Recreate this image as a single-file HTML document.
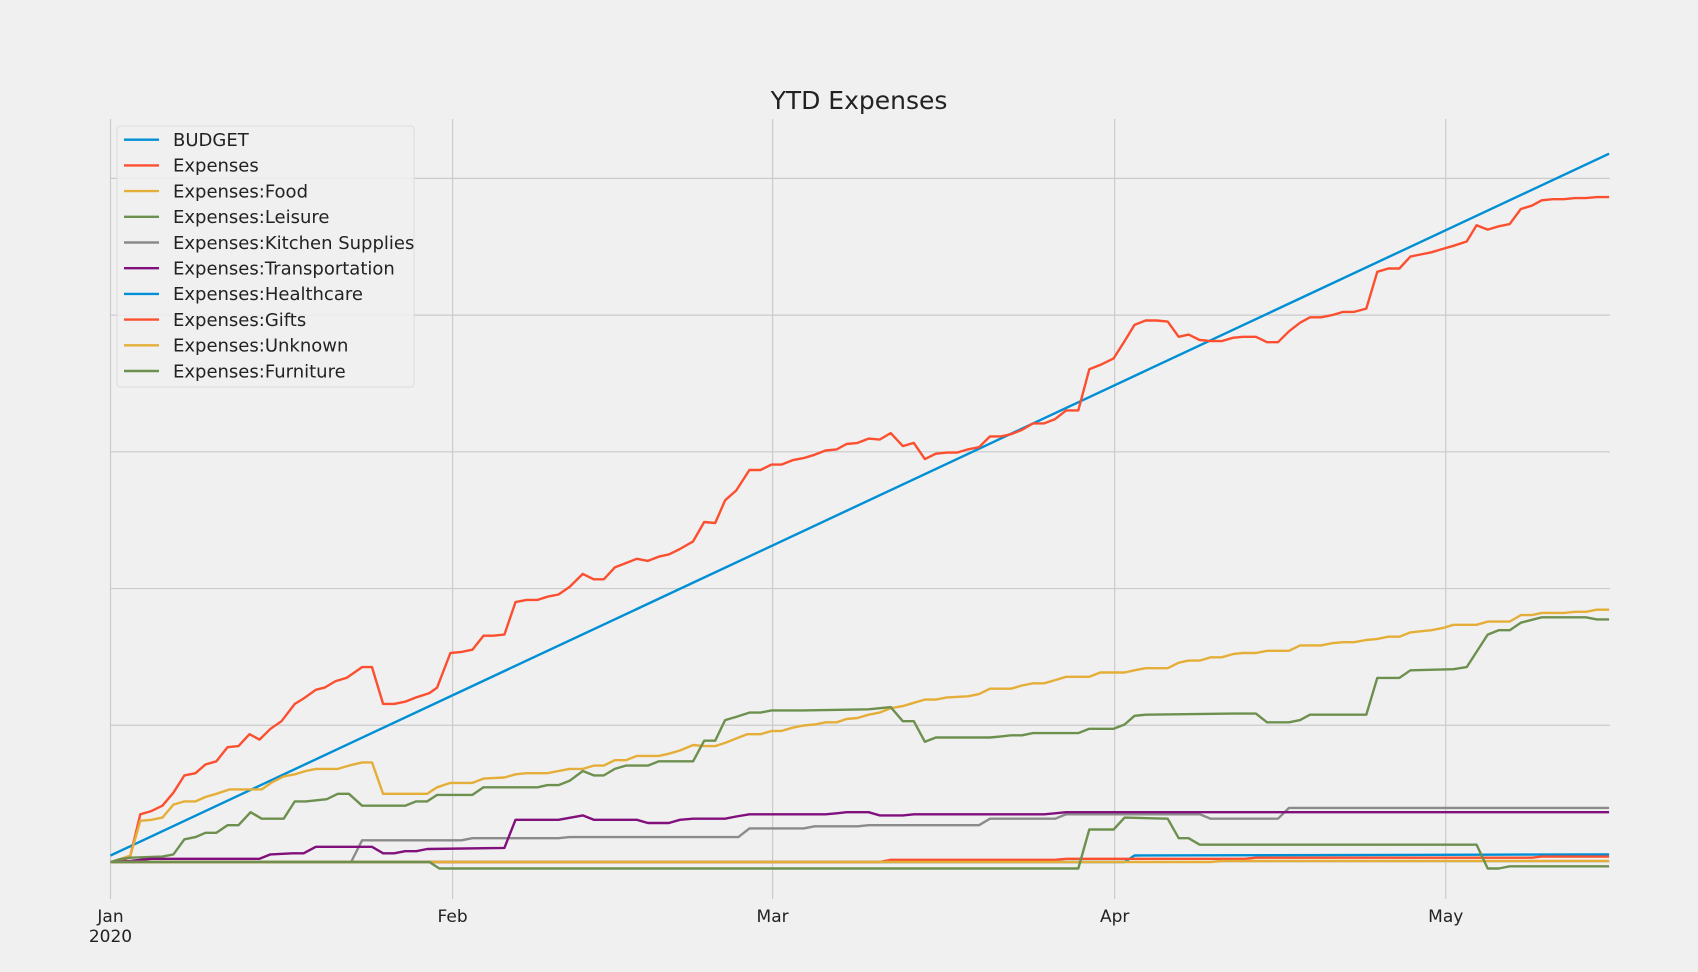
<!DOCTYPE html>
<html><head><meta charset="utf-8">
<style>
html,body{margin:0;padding:0;background:#f0f0f0;}
svg{display:block;}
text{font-family:"DejaVu Sans","Liberation Sans",sans-serif;fill:#222;}
</style></head>
<body>
<svg id="chart" width="1698" height="972" viewBox="0 0 1698 972" xmlns="http://www.w3.org/2000/svg">
<rect x="0" y="0" width="1698" height="972" fill="#f0f0f0"/>
<g id="grid"></g>
<g id="series"></g>
<text x="859" y="109" font-size="25" text-anchor="middle">YTD Expenses</text>
<g id="xticks"></g>
<g id="legend"></g>
</svg>
<script>
// ---- data ----
const seriesNames = ["BUDGET","Expenses","Expenses:Food","Expenses:Leisure","Expenses:Kitchen Supplies","Expenses:Transportation","Expenses:Healthcare","Expenses:Gifts","Expenses:Unknown","Expenses:Furniture"];
const seriesColors = ["#008fd5","#fc4f30","#e5ae38","#6d904f","#8b8b8b","#810f7c","#008fd5","#fc4f30","#e5ae38","#6d904f"];
const monthTickDays = [0,31,60,91,121];
const monthTickLabels = ["Jan","Feb","Mar","Apr","May"];
const yGridValues = [0,1010,2020,3030,4040,5050];

const budgetDays = [0,135.8];
const budgetVals = [48,5232];

const expDays = [0,1.0,1.8,2.7,3.7,4.7,5.7,6.7,7.7,8.6,9.6,10.6,11.6,12.6,13.5,14.5,15.5,16.7,17.5,18.6,19.4,20.4,21.4,22.8,23.7,24.7,25.7,26.7,27.7,28.9,29.6,30.8,31.8,32.8,33.8,34.7,35.7,36.7,37.7,38.7,39.6,40.6,41.6,42.8,43.8,44.7,45.7,46.7,47.7,48.7,49.7,50.6,51.6,52.8,53.8,54.8,55.7,56.7,57.9,58.9,59.9,60.8,61.8,62.8,63.8,64.8,65.8,66.7,67.7,68.7,69.7,70.7,71.8,72.8,73.8,74.8,75.8,76.7,77.7,78.7,79.7,80.7,81.6,82.6,83.6,84.6,85.6,86.6,87.7,88.7,89.7,90.9,91.9,92.8,93.8,94.8,95.8,96.8,97.7,98.7,99.7,100.7,101.7,102.6,103.8,104.8,105.8,106.8,107.8,108.7,109.7,110.7,111.7,112.7,113.8,114.8,115.8,116.8,117.8,118.7,119.7,120.7,121.7,122.9,123.8,124.8,125.8,126.8,127.8,128.8,129.7,130.7,131.7,132.7,133.7,134.7,135.8];
const expVals = [0,0,48,352,376,416,512,640,656,720,744,848,856,944,904,984,1040,1168,1208,1272,1288,1336,1360,1440,1440,1168,1168,1184,1216,1248,1288,1544,1552,1568,1672,1672,1680,1920,1936,1936,1960,1976,2032,2128,2088,2088,2176,2208,2240,2224,2256,2272,2312,2368,2512,2504,2672,2744,2896,2896,2936,2936,2968,2984,3008,3040,3048,3088,3096,3128,3120,3168,3072,3096,2976,3016,3024,3024,3048,3064,3144,3144,3160,3192,3240,3240,3272,3336,3336,3640,3672,3720,3848,3968,4000,4000,3992,3880,3896,3856,3848,3848,3872,3880,3880,3840,3840,3920,3984,4024,4024,4040,4064,4064,4088,4360,4384,4384,4472,4488,4504,4528,4552,4584,4704,4672,4696,4712,4824,4848,4888,4896,4896,4904,4904,4912,4912];

const foodDays = [0,1.0,1.8,2.7,3.7,4.7,5.7,6.7,7.7,8.6,9.6,10.8,13.7,14.7,15.7,16.7,17.7,18.6,20.6,21.6,22.8,23.7,24.7,28.7,29.6,30.8,32.8,33.8,35.7,36.7,37.7,39.6,40.6,41.6,42.8,43.8,44.7,45.7,46.7,47.7,49.7,50.6,51.6,52.8,53.8,54.8,55.7,56.7,57.7,58.9,59.9,60.8,61.8,62.8,63.8,64.8,65.8,66.7,67.7,68.7,69.7,70.7,71.8,72.8,73.8,74.8,75.8,77.7,78.7,79.7,81.6,82.6,83.6,84.6,85.6,86.6,88.7,89.7,91.9,92.8,93.8,95.8,96.8,97.7,98.7,99.7,100.7,101.7,102.6,103.8,104.8,106.8,107.8,109.7,110.7,111.7,112.7,113.8,114.8,115.8,116.8,117.8,118.7,119.7,120.7,121.7,123.8,124.8,126.8,127.8,128.8,129.7,131.7,132.7,133.7,134.7,135.8];
const foodVals = [0,24,48,304,312,328,424,448,448,480,504,536,536,592,632,648,672,688,688,712,736,736,504,504,552,584,584,616,624,648,656,656,672,688,688,712,712,752,752,784,784,800,824,864,856,856,880,912,944,944,968,968,992,1008,1016,1032,1032,1056,1064,1088,1104,1136,1152,1176,1200,1200,1216,1224,1240,1280,1280,1304,1320,1320,1344,1368,1368,1400,1400,1416,1432,1432,1472,1488,1488,1512,1512,1536,1544,1544,1560,1560,1600,1600,1616,1624,1624,1640,1648,1664,1664,1696,1704,1712,1728,1752,1752,1776,1776,1824,1824,1840,1840,1848,1848,1864,1864];

const leisureDays = [0,1.0,1.8,4.7,5.7,6.7,7.7,8.6,9.6,10.6,11.6,12.7,13.7,15.7,16.7,17.7,19.6,20.6,21.6,22.8,26.7,27.7,28.7,29.6,32.8,33.8,38.7,39.6,40.6,41.6,42.8,43.8,44.7,45.7,46.7,48.7,49.7,52.8,53.8,54.8,55.7,56.7,57.9,58.9,59.9,62.8,68.7,70.7,71.8,72.8,73.8,74.8,79.7,80.7,81.6,82.6,83.6,87.7,88.7,90.9,91.9,92.8,93.8,101.7,103.8,104.8,106.8,107.8,108.7,113.8,114.8,116.8,117.8,121.7,122.9,124.8,125.8,126.8,127.8,129.7,133.7,134.7,135.8];
const leisureVals = [0,24,32,40,56,168,184,216,216,272,272,368,320,320,448,448,464,504,504,416,416,448,448,496,496,552,552,568,568,600,672,640,640,688,712,712,744,744,896,896,1048,1072,1104,1104,1120,1120,1128,1144,1040,1040,888,920,920,928,936,936,952,952,984,984,1016,1080,1088,1096,1096,1032,1032,1048,1088,1088,1360,1360,1416,1424,1440,1680,1712,1712,1768,1808,1808,1792,1792];

const kitchenDays = [0,21.8,22.8,31.8,32.8,40.6,41.6,56.9,57.9,62.8,63.8,67.7,68.7,78.7,79.7,85.6,86.6,98.7,99.7,105.8,106.8,135.8];
const kitchenVals = [0,0,160,160,176,176,184,184,248,248,264,264,272,272,320,320,352,352,320,320,400,400];

const transDays = [0,1.8,2.7,3.7,13.5,14.5,16.5,17.5,18.6,23.7,24.7,25.7,26.7,27.7,28.7,35.7,36.7,40.6,42.8,43.8,47.7,48.7,50.6,51.6,52.8,55.7,56.7,57.9,64.8,65.8,66.7,68.7,69.7,71.8,72.8,84.6,85.6,86.6,135.8];
const transVals = [0,8,16,24,24,56,64,64,112,112,64,64,80,80,96,104,312,312,344,312,312,288,288,312,320,320,336,352,352,360,368,368,344,344,352,352,360,368,368];

const healthDays = [0,91.9,92.8,135.8];
const healthVals = [0,0,48,56];

const giftsDays = [0,69.7,70.7,85.6,86.6,102.8,103.8,128.8,129.7,135.8];
const giftsVals = [0,0,16,16,24,24,32,32,40,40];

const unknownDays = [0,99.7,100.7,135.8];
const unknownVals = [0,0,8,8];

const furnDays = [0,28.9,29.8,87.7,88.7,90.9,91.9,95.8,96.8,97.7,98.7,123.8,124.8,125.8,126.8,135.8];
const furnVals = [0,0,-48,-48,240,240,328,320,176,176,128,128,-48,-48,-32,-32];

const allDays = [budgetDays,expDays,foodDays,leisureDays,kitchenDays,transDays,healthDays,giftsDays,unknownDays,furnDays];
const allVals = [budgetVals,expVals,foodVals,leisureVals,kitchenVals,transVals,healthVals,giftsVals,unknownVals,furnVals];

// ---- axes ----
const X0 = 110.5, PX_PER_DAY = 11.035, XR = 1610;
const Y0 = 862, PX_PER_UNIT = 0.13537, YT = 119, YB = 899;
function xScale(d){ return X0 + d*PX_PER_DAY; }
function yScale(v){ return Y0 - v*PX_PER_UNIT; }
const NS = "http://www.w3.org/2000/svg";
function mk(tag, attrs){ const e=document.createElementNS(NS,tag); for(const k in attrs) e.setAttribute(k,attrs[k]); return e; }

const grid = document.getElementById('grid');
yGridValues.forEach(v=>{
  const l = mk('line',{x1:X0,x2:XR,y1:yScale(v),y2:yScale(v),stroke:'#cbcbcb','stroke-width':1.2});
  
  
  grid.appendChild(l);
});
monthTickDays.forEach(d=>{
  const l = mk('line',{x1:xScale(d),x2:xScale(d),y1:YT,y2:YB,stroke:'#cbcbcb','stroke-width':1.2});
  
  
  grid.appendChild(l);
});

const xt = document.getElementById('xticks');
monthTickDays.forEach((d,i)=>{
  const t = mk('text',{x:xScale(d),y:922,'font-size':17,'text-anchor':'middle'});
  t.textContent = monthTickLabels[i];
  
  
  xt.appendChild(t);
});
const yr = mk('text',{x:xScale(0),y:942,'font-size':17,'text-anchor':'middle'});
yr.textContent = "2020";


xt.appendChild(yr);

const sg = document.getElementById('series');
for(let i=allDays.length-1;i>=0;i--){
  const pts = allDays[i].map((d,j)=>xScale(d).toFixed(1)+','+yScale(allVals[i][j]).toFixed(1)).join(' ');
  const pl = mk('polyline',{points:pts,fill:'none',stroke:seriesColors[i],'stroke-width':2.4,'stroke-linejoin':'round'});
  
  
  sg.insertBefore(pl, sg.firstChild);
}

const lg = document.getElementById('legend');
const box = mk('rect',{x:117,y:126,width:297,height:261,rx:3,fill:'#f0f0f0','fill-opacity':0.85,stroke:'#dcdcdc','stroke-width':1});


lg.appendChild(box);
seriesNames.forEach((n,i)=>{
  const y = 139.7 + i*25.7;
  const g = mk('g',{});
  
  
  g.appendChild(mk('line',{x1:124,x2:159,y1:y,y2:y,stroke:seriesColors[i],'stroke-width':2.4}));
  const t = mk('text',{x:173,y:y+6.3,'font-size':18});
  t.textContent = n;
  g.appendChild(t);
  lg.appendChild(g);
});
</script>
</body></html>
